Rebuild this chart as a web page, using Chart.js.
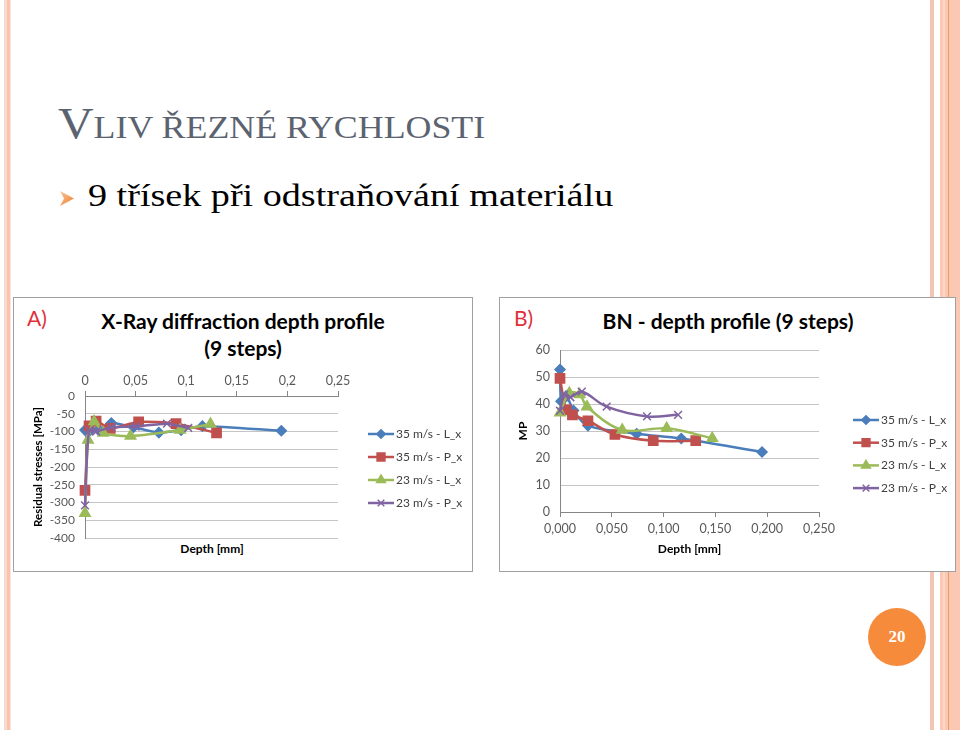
<!DOCTYPE html>
<html>
<head>
<meta charset="utf-8">
<script src="https://cdn.jsdelivr.net/npm/chart.js@4"></script>
<style>
    body { margin: 0; background: #fff; }
    #slide { position: relative; width: 960px; height: 730px; overflow: hidden; background: #fff; }
    .stripe { position: absolute; top: 0; height: 730px; }
    .title { position: absolute; left: 58px; top: 98px; font-family: "Liberation Serif", serif; color: #5b6370; white-space: nowrap;
        transform: scaleX(1.12); transform-origin: left top; }
    .title .big { font-size: 44px; }
    .title .sc { font-size: 32px; }
    .bullet { position: absolute; left: 88px; top: 178px; font-family: "Liberation Serif", serif; font-size: 31px; color: #000; white-space: nowrap;
        transform: scaleX(1.23); transform-origin: left top; }
    .panel { position: absolute; border: 1px solid #a0a0a0; background: #fff; box-sizing: border-box; }
    .ptitle { position: absolute; font-family: Lato, sans-serif; font-weight: bold; font-size: 21px; color: #000; text-align: center; line-height: 27px; }
    .plabel { position: absolute; font-family: Lato, sans-serif; font-size: 21px; color: #e0303a; }
    .axtitle { position: absolute; font-family: Lato, sans-serif; font-weight: bold; font-size: 12px; color: #000; }
    canvas { position: absolute; }
    #pagenum { position: absolute; left: 868px; top: 608px; width: 58px; height: 58px; border-radius: 50%; background: #f68b3c;
        color: #fff; font-family: "Liberation Serif", serif; font-weight: bold; font-size: 17px; text-align: center; line-height: 58px; }
</style>
</head>
<body>
<div id="slide">
    <div class="stripe" style="left:4px;width:3px;background:#f6dacd"></div>
    <div class="stripe" style="left:7px;width:3px;background:#f9c3ad"></div>
    <div class="stripe" style="left:10px;width:1px;background:#fde4da"></div>
    <div class="stripe" style="left:930px;width:4px;background:#f3c4b2"></div>
    <div class="stripe" style="left:940px;width:20px;background:#fbc8b3"></div>
    <div class="stripe" style="left:943px;width:2px;background:#fcd6c6"></div>
    <div class="stripe" style="left:948px;width:1px;background:#e79a6c"></div>

    <div class="title"><span class="big">V</span><span class="sc">LIV ŘEZNÉ RYCHLOSTI</span></div>

    <svg style="position:absolute;left:60px;top:191px" width="14" height="15" viewBox="0 0 14 15">
        <defs><linearGradient id="ag" x1="0" y1="0" x2="1" y2="1">
            <stop offset="0" stop-color="#f9c79a"/><stop offset="1" stop-color="#ee7d2c"/></linearGradient></defs>
        <polygon points="0,0 14,7.5 0,15 4,7.5" fill="url(#ag)"/>
    </svg>
    <div class="bullet">9 třísek při odstraňování materiálu</div>

    <div class="panel" style="left:13px;top:297px;width:460px;height:275px"></div>
    <div class="plabel" style="left:27px;top:305px">A)</div>
    <div class="ptitle" style="left:50px;top:307px;width:386px">X-Ray diffraction depth profile<br>(9 steps)</div>
    <div class="axtitle" style="left:150px;top:541px;width:124px;text-align:center">Depth [mm]</div>
    <canvas id="chartA" width="457" height="273" style="left:14px;top:298px"></canvas>

    <div class="panel" style="left:499px;top:297px;width:457px;height:275px"></div>
    <div class="plabel" style="left:514px;top:305px">B)</div>
    <div class="ptitle" style="left:550px;top:307px;width:356px">BN - depth profile (9 steps)</div>
    <canvas id="chartB" width="455" height="273" style="left:500px;top:298px"></canvas>

    <div id="pagenum">20</div>
</div>

<script>
// series names and colours (Excel 2007 palette)
const seriesNames = ['35 m/s - L_x', '35 m/s - P_x', '23 m/s - L_x', '23 m/s - P_x'];
const seriesColors = ['#4a7ebb', '#c0504d', '#9bbb59', '#8064a2'];
const seriesMarkers = ['rectRot', 'rect', 'triangle', 'crossRot'];
const markerSizes = [5, 6.5, 6, 5.5];

// A) X-Ray diffraction: depth [mm] / residual stress [MPa]
const depthA_L35 = [0, 0.004, 0.013, 0.026, 0.048, 0.073, 0.095, 0.116, 0.194];
const stressA_L35 = [-96, -100, -95, -76, -88, -103, -96, -85, -98];
const depthA_P35 = [0, 0.004, 0.011, 0.025, 0.053, 0.09, 0.13];
const stressA_P35 = [-266, -84, -71, -91, -73, -78, -104];
const depthA_L23 = [0, 0.003, 0.009, 0.018, 0.045, 0.094, 0.124];
const stressA_L23 = [-330, -124, -72, -104, -113, -96, -79];
const depthA_P23 = [0, 0.004, 0.011, 0.026, 0.05, 0.081, 0.102];
const stressA_P23 = [-308, -96, -100, -88, -86, -78, -90];

// B) Barkhausen noise: depth [mm] / MP
const depthB_L35 = [0, 0.001, 0.006, 0.013, 0.027, 0.074, 0.117, 0.195];
const mpB_L35 = [52.8, 41, 43, 37.6, 32, 29, 27.2, 22.2];
const depthB_P35 = [0, 0.006, 0.012, 0.027, 0.053, 0.09, 0.131];
const mpB_P35 = [49.5, 37.8, 36, 33.8, 28.7, 26.4, 26.4];
const depthB_L23 = [0, 0.009, 0.019, 0.026, 0.06, 0.103, 0.147];
const mpB_L23 = [36.8, 44, 43.5, 39, 30.4, 31, 27.3];
const depthB_P23 = [0, 0.004, 0.01, 0.021, 0.045, 0.084, 0.114];
const mpB_P23 = [37.5, 43.4, 42.5, 44.6, 39, 35.4, 36];

const tickColor = '#595959';
const axisColor = '#868686';
const gridColor = '#c4c4c4';

function toPoints(xs, ys) {
    return xs.map((x, i) => ({ x: x, y: ys[i] }));
}

function makeDatasets(pairs, tension) {
    return pairs.map((p, i) => ({
        label: seriesNames[i],
        data: toPoints(p[0], p[1]),
        showLine: true,
        borderColor: seriesColors[i],
        backgroundColor: seriesColors[i],
        pointBackgroundColor: seriesColors[i],
        pointBorderColor: seriesColors[i],
        borderWidth: 2.5,
        pointStyle: seriesMarkers[i],
        pointRadius: markerSizes[i],
        pointBorderWidth: 1.5,
        tension: tension,
        clip: false,
        order: 3 - i
    }));
}

// legend with line + marker, like Excel
const lineLegend = {
    id: 'lineLegend',
    afterDraw(chart, args, opts) {
        const ctx = chart.ctx;
        chart.data.datasets.forEach((ds, i) => {
            const y = opts.top + i * opts.gap;
            ctx.save();
            ctx.strokeStyle = ds.borderColor;
            ctx.lineWidth = ds.borderWidth;
            ctx.beginPath();
            ctx.moveTo(opts.left, y);
            ctx.lineTo(opts.left + 26, y);
            ctx.stroke();
            ctx.fillStyle = ds.pointBackgroundColor;
            ctx.strokeStyle = ds.pointBorderColor;
            ctx.lineWidth = ds.pointBorderWidth;
            Chart.helpers.drawPoint(ctx, { pointStyle: ds.pointStyle, radius: ds.pointRadius * 0.85, borderWidth: ds.pointBorderWidth, rotation: 0 }, opts.left + 13, y);
            ctx.fillStyle = '#404040';
            ctx.font = '12px Lato';
            ctx.textBaseline = 'middle';
            ctx.fillText(ds.label, opts.left + 28, y);
            ctx.restore();
        });
    }
};

const tickFont = { family: 'Lato', size: 12.5 };
const yTickFont = { family: 'Lato', size: 12 };
const axisTitleFont = { family: 'Lato', size: 11.5, weight: 'bold' };

new Chart(document.getElementById('chartA'), {
    type: 'scatter',
    data: {
        datasets: makeDatasets([
            [depthA_L35, stressA_L35],
            [depthA_P35, stressA_P35],
            [depthA_L23, stressA_L23],
            [depthA_P23, stressA_P23]
        ], 0.25)
    },
    options: {
        responsive: false,
        animation: false,
        layout: { padding: { left: 0, top: 74, right: 133, bottom: 33 } },
        plugins: {
            legend: { display: false },
            tooltip: { enabled: false },
            lineLegend: { left: 354, top: 136, gap: 23 }
        },
        scales: {
            x: {
                type: 'linear',
                position: 'top',
                min: 0,
                max: 0.25,
                ticks: {
                    stepSize: 0.05,
                    padding: 3,
                    color: tickColor,
                    font: tickFont,
                    autoSkip: false,
                    callback: v => String(parseFloat(v.toFixed(2))).replace('.', ',')
                },
                grid: { drawOnChartArea: false, drawTicks: true, tickLength: 5, color: axisColor },
                border: { color: axisColor },
                afterFit(s) { s.height = 24; }
            },
            y: {
                min: -400,
                max: 0,
                ticks: { stepSize: 50, padding: 10, color: tickColor, font: yTickFont, autoSkip: false },
                grid: { color: gridColor, drawTicks: false },
                border: { display: true, color: axisColor },
                title: { display: true, text: 'Residual stresses [MPa]', color: '#000', font: axisTitleFont, padding: { top: 17, bottom: 0 } },
                afterFit(s) { s.width = 71; }
            }
        }
    },
    plugins: [lineLegend]
});

new Chart(document.getElementById('chartB'), {
    type: 'scatter',
    data: {
        datasets: makeDatasets([
            [depthB_L35, mpB_L35],
            [depthB_P35, mpB_P35],
            [depthB_L23, mpB_L23],
            [depthB_P23, mpB_P23]
        ], 0.35)
    },
    options: {
        responsive: false,
        animation: false,
        layout: { padding: { left: 0, top: 52, right: 136, bottom: 0 } },
        plugins: {
            legend: { display: false },
            tooltip: { enabled: false },
            lineLegend: { left: 353, top: 122, gap: 22.7 }
        },
        scales: {
            x: {
                type: 'linear',
                min: 0,
                max: 0.25,
                ticks: {
                    stepSize: 0.05,
                    padding: 4,
                    color: tickColor,
                    font: tickFont,
                    autoSkip: false,
                    callback: v => v.toFixed(3).replace('.', ',')
                },
                grid: { drawOnChartArea: false, drawTicks: true, tickLength: 5, color: axisColor },
                border: { color: axisColor },
                title: { display: true, text: 'Depth [mm]', color: '#000', font: { family: 'Lato', size: 12, weight: 'bold' }, padding: { top: 0, bottom: 15 } },
                afterFit(s) { s.height = 59; }
            },
            y: {
                min: 0,
                max: 60,
                ticks: { stepSize: 10, padding: 10, color: tickColor, font: tickFont, autoSkip: false },
                grid: { color: gridColor, drawTicks: false },
                border: { display: true, color: axisColor },
                title: { display: true, text: 'MP', color: '#000', font: { family: 'Lato', size: 12, weight: 'bold' }, padding: { top: 16, bottom: 0 } },
                afterFit(s) { s.width = 60; }
            }
        }
    },
    plugins: [lineLegend]
});
</script>
</body>
</html>
